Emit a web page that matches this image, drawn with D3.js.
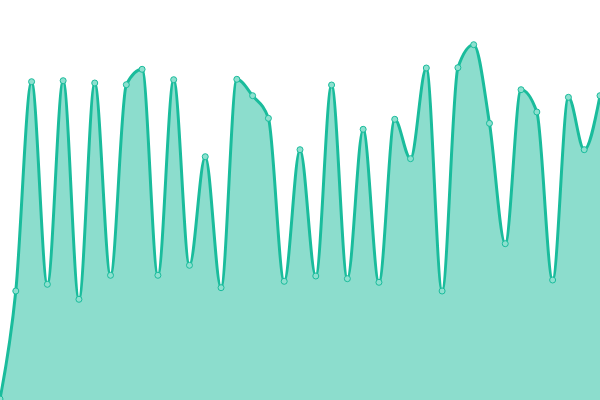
<!DOCTYPE html>
<html><head><meta charset="utf-8">
<script src="https://cdn.jsdelivr.net/npm/d3@7"></script>
<style>html,body{margin:0;padding:0;background:#fff;overflow:hidden}</style>
</head><body><svg id="c" width="600" height="400"></svg>
<script>
const indices = d3.range(39);
const values = [1, 109, 318.3, 115.7, 319.3, 100.7, 317, 124.7, 315.3, 330.7, 124.7, 320.3, 134.7,
  243.3, 112.3, 320.7, 304.3, 281.7, 118.7, 250.3, 124, 315, 121.3, 270.7, 117.7, 280.7,
  241.3, 332, 109, 332.3, 355.3, 276.7, 156.3, 310.3, 288, 120, 302.7, 250.3, 304.3];
const lineColor = "#1abc9c";

const W = 600, H = 400;
const svg = d3.select("#c");
const x = d3.scaleLinear().domain([0, indices.length - 1]).range([0, W]);
const y = d3.scaleLinear().domain([0, 400]).range([H, 0]);

const area = d3.area().x((d,i)=>x(i)).y0(H).y1(d=>y(d)).curve(d3.curveMonotoneX);
const line = d3.line().x((d,i)=>x(i)).y(d=>y(d)).curve(d3.curveMonotoneX);

svg.append("path").datum(values).attr("d", area).attr("fill", lineColor).attr("fill-opacity", 0.5);
svg.append("path").datum(values).attr("d", line).attr("fill", "none").attr("stroke", lineColor).attr("stroke-width", 3);
svg.selectAll("circle").data(values).join("circle")
  .attr("cx", (d,i)=>x(i)).attr("cy", d=>y(d)).attr("r", 3)
  .attr("fill", "#8de0cf").attr("stroke", lineColor).attr("stroke-width", 1);
</script></body></html>
